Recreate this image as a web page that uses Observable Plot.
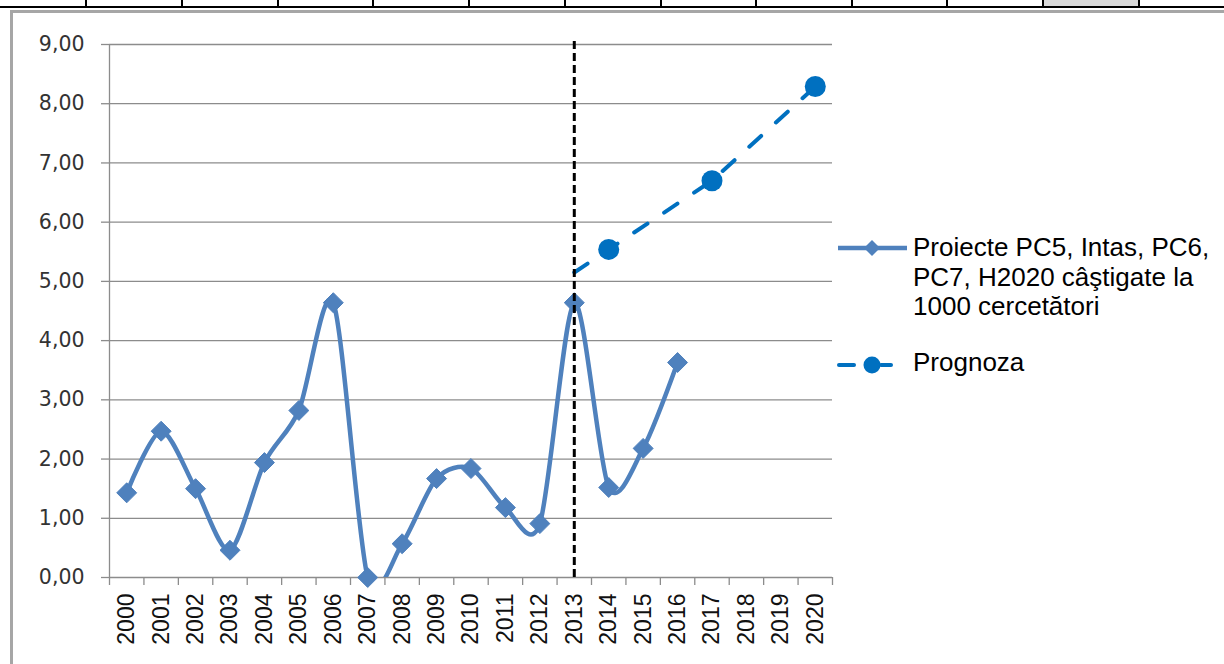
<!DOCTYPE html>
<html><head><meta charset="utf-8">
<script src="https://cdn.jsdelivr.net/npm/d3@7"></script>
<script src="https://cdn.jsdelivr.net/npm/@observablehq/plot@0.6"></script>
<style>
html,body{margin:0;padding:0;background:#fff;}
body{width:1224px;height:664px;overflow:hidden;position:relative;font-family:"Liberation Sans",Arial,sans-serif;}
#chart{position:absolute;left:0;top:0;}
.abs{position:absolute;}
.legtext{position:absolute;font-family:"Liberation Sans",Arial,sans-serif;font-size:26px;line-height:29.5px;color:#000;white-space:nowrap;}
</style></head><body>
<div id="deco"></div>
<div id="chart"></div>
<div id="legend"></div>
<script>
// ---- data ----
const years = [2000,2001,2002,2003,2004,2005,2006,2007,2008,2009,2010,2011,2012,2013,2014,2015,2016,2017,2018,2019,2020];
const seriesYears = [2000,2001,2002,2003,2004,2005,2006,2007,2008,2009,2010,2011,2012,2013,2014,2015,2016];
const seriesValues = [1.43,2.47,1.50,0.46,1.94,2.82,4.64,0.00,0.57,1.67,1.84,1.18,0.91,4.64,1.52,2.18,3.63];
const forecastYears = [2013,2014,2017,2020];
const forecastValues = [5.15,5.54,6.70,8.29];
const forecastMarked = [false,true,true,true];
const yTicks = [0,1,2,3,4,5,6,7,8,9];
const splitYear = 2013;
const splitTop = 9.12;
const seriesName = ["Proiecte PC5, Intas, PC6,","PC7, H2020 câştigate la","1000 cercetători"];
const forecastName = "Prognoza";

// ---- decoration (spreadsheet cells & chart border) ----
const deco = document.getElementById("deco");
const cellLines = [85,181,277,372,468,564,660,755,851,946,1042,1138];
function box(l,t,w,h,bg){const d=document.createElement("div");d.className="abs";Object.assign(d.style,{left:l+"px",top:t+"px",width:w+"px",height:h+"px",background:bg});deco.appendChild(d);}
box(1043,0,95,6,"#d9d9d9");
cellLines.forEach(x=>box(x,0,1.5,6,"#000"));
box(0,6,1224,2,"#000");
box(10,10,1214,2.5,"#a6a6a6");
box(10,10,2.5,654,"#a6a6a6");

// ---- chart ----
const main = seriesYears.map((year,i)=>({year,value:seriesValues[i]}));
const forecast = forecastYears.map((year,i)=>({year,value:forecastValues[i],marked:forecastMarked[i]}));
const bounds = years.map(y=>y-0.5).concat([years[years.length-1]+0.5]);
const grid = "#8c8c8c";
const blue = "#4F81BD";
const fblue = "#0070C0";

const chart = Plot.plot({
  width:1224, height:664,
  marginLeft:109, marginRight:392, marginTop:44, marginBottom:87,
  x:{domain:[bounds[0], bounds[bounds.length-1]]},
  y:{domain:[0,9]},
  style:{background:"transparent", color:"#222"},
  marks:[
    Plot.ruleY(yTicks,{stroke:grid,strokeWidth:1.3}),
    Plot.ruleX([bounds[0]],{y1:0,y2:9,stroke:grid,strokeWidth:1.3}),
    Plot.axisX(bounds,{label:null,tickSize:8,tickFormat:()=>"",stroke:grid,strokeWidth:1.3}),
    Plot.axisX(years,{label:null,tickSize:0,tickPadding:16,tickRotate:-90,tickFormat:d=>String(d),fontSize:23,fontFamily:"Liberation Sans, Arial, sans-serif",fill:"#111"}),
    Plot.axisY(yTicks,{label:null,tickSize:8,tickPadding:17,tickFormat:d=>d.toFixed(2).replace(".",","),stroke:grid,strokeWidth:1.3,fontSize:20.5,fontFamily:"DejaVu Sans, sans-serif",fill:"#333"}),
    Plot.line(main,{x:"year",y:"value",stroke:blue,strokeWidth:4.5,curve:"cardinal",tension:0.15,clip:true}),
    Plot.dot(main,{x:"year",y:"value",symbol:"diamond2",r:9,fill:blue,stroke:blue,strokeWidth:1}),
    Plot.line(forecast,{x:"year",y:"value",stroke:fblue,strokeWidth:4,strokeDasharray:"16 20",strokeLinecap:"round"}),
    Plot.dot(forecast.filter(d=>d.marked),{x:"year",y:"value",r:10.5,fill:fblue}),
    Plot.ruleX([splitYear],{y1:0,y2:splitTop,stroke:"#000",strokeWidth:3,strokeDasharray:"8 4"})
  ]
});
document.getElementById("chart").appendChild(chart);

// ---- legend ----
const leg = document.getElementById("legend");
const ns = "http://www.w3.org/2000/svg";
const lsvg = document.createElementNS(ns,"svg");
lsvg.setAttribute("width","90");lsvg.setAttribute("height","160");
lsvg.setAttribute("class","abs");lsvg.style.left="830px";lsvg.style.top="228px";
function el(tag,attrs){const e=document.createElementNS(ns,tag);for(const k in attrs)e.setAttribute(k,attrs[k]);lsvg.appendChild(e);return e;}
el("line",{x1:8,y1:20,x2:77,y2:20,stroke:blue,"stroke-width":4.5});
el("path",{d:"M42,12 L50,20 L42,28 L34,20 Z",fill:blue});
el("line",{x1:9,y1:137,x2:24,y2:137,stroke:fblue,"stroke-width":4,"stroke-linecap":"round"});
el("line",{x1:51,y1:137,x2:61,y2:137,stroke:fblue,"stroke-width":4,"stroke-linecap":"round"});
el("circle",{cx:42,cy:137,r:8.5,fill:fblue});
leg.appendChild(lsvg);
const t1=document.createElement("div");t1.className="legtext";t1.style.left="913px";t1.style.top="233px";
t1.innerHTML=seriesName.join("<br>");leg.appendChild(t1);
const t2=document.createElement("div");t2.className="legtext";t2.style.left="913px";t2.style.top="348px";
t2.textContent=forecastName;leg.appendChild(t2);
</script>
</body></html>
